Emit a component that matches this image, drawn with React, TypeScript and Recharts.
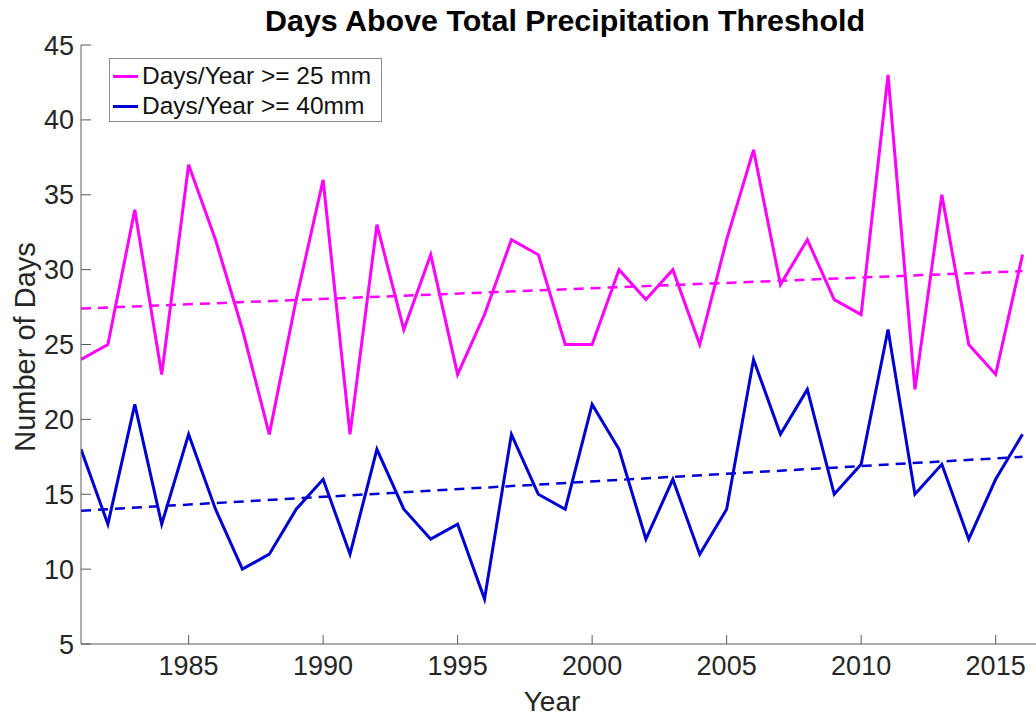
import React from 'react';
import { LineChart, Line, XAxis, YAxis, ReferenceLine, Legend } from 'recharts';

const years = [
  1981, 1982, 1983, 1984, 1985, 1986, 1987, 1988, 1989, 1990, 1991, 1992,
  1993, 1994, 1995, 1996, 1997, 1998, 1999, 2000, 2001, 2002, 2003, 2004,
  2005, 2006, 2007, 2008, 2009, 2010, 2011, 2012, 2013, 2014, 2015, 2016,
];
const days25 = [
  24, 25, 34, 23, 37, 32, 26, 19, 28, 36, 19, 33,
  26, 31, 23, 27, 32, 31, 25, 25, 30, 28, 30, 25,
  32, 38, 29, 32, 28, 27, 43, 22, 35, 25, 23, 31,
];
const days40 = [
  18, 13, 21, 13, 19, 14, 10, 11, 14, 16, 11, 18,
  14, 12, 13, 8, 19, 15, 14, 21, 18, 12, 16, 11,
  14, 24, 19, 22, 15, 17, 26, 15, 17, 12, 16, 19,
];
// fitted trend lines, end points
const trendYears = [1981, 2016];
const trend25 = [27.4, 29.9];
const trend40 = [13.9, 17.5];

const xTicks = [1985, 1990, 1995, 2000, 2005, 2010, 2015];
const yTicks = [5, 10, 15, 20, 25, 30, 35, 40, 45];

const MAGENTA = '#f0f';
const BLUE = '#0000d4';
const TEXT = '#262626';
const AXIS = '#5a5a5a';
const FONT = '"Liberation Sans", Arial, Helvetica, sans-serif';

const series = [
  { key: 'd25', name: 'Days/Year >= 25 mm', color: MAGENTA },
  { key: 'd40', name: 'Days/Year >= 40mm', color: BLUE },
];

const data = years.map((year, i) => ({ year, d25: days25[i], d40: days40[i] }));

const LegendBox = () => (
  <div
    style={{
      width: 271,
      height: 62,
      border: '1px solid #8a8a8a',
      background: '#fff',
      fontFamily: FONT,
      fontSize: 24.5,
      color: '#111',
    }}
  >
    {series.map((s) => (
      <div key={s.key} style={{ display: 'flex', alignItems: 'center', height: 30, marginTop: s.key === 'd25' ? 2 : 0 }}>
        <div style={{ width: 25, height: 3, background: s.color, marginLeft: 3, marginRight: 4 }} />
        <span style={{ whiteSpace: 'nowrap' }}>{s.name}</span>
      </div>
    ))}
  </div>
);

export default function App() {
  return (
    <div style={{ position: 'absolute', left: 0, top: 0, background: '#fff' }}>
      <LineChart width={1036} height={719} data={data} margin={{ top: 45, right: 0, bottom: 74, left: 80 }}>
        <text
          x={565}
          y={31}
          textAnchor="middle"
          fontFamily={FONT}
          fontWeight="bold"
          fontSize={29}
          fill="#000"
          textLength={600}
          lengthAdjust="spacingAndGlyphs"
        >
          Days Above Total Precipitation Threshold
        </text>
        <text
          x={0}
          y={0}
          transform="translate(35,347) rotate(-90)"
          textAnchor="middle"
          fontFamily={FONT}
          fontSize={29}
          fill={TEXT}
        >
          Number of Days
        </text>
        <text x={552} y={711} textAnchor="middle" fontFamily={FONT} fontSize={28} fill={TEXT}>
          Year
        </text>
        <XAxis
          dataKey="year"
          type="number"
          domain={[1981, 2016.5]}
          ticks={xTicks}
          height={1}
          tickSize={-9}
          tickMargin={21}
          stroke={AXIS}
          tick={{ fill: TEXT, fontSize: 27, fontFamily: FONT }}
          allowDataOverflow
        />
        <YAxis
          type="number"
          domain={[5, 45]}
          ticks={yTicks}
          width={1}
          tickSize={-10}
          tickMargin={17}
          stroke={AXIS}
          tick={{ fill: TEXT, fontSize: 27, fontFamily: FONT }}
          allowDataOverflow
        />
        <ReferenceLine
          segment={[
            { x: trendYears[0], y: trend25[0] },
            { x: trendYears[1], y: trend25[1] },
          ]}
          stroke={MAGENTA}
          strokeWidth={2.5}
          strokeDasharray="10 7"
        />
        <ReferenceLine
          segment={[
            { x: trendYears[0], y: trend40[0] },
            { x: trendYears[1], y: trend40[1] },
          ]}
          stroke={BLUE}
          strokeWidth={2.5}
          strokeDasharray="10 7"
        />
        {series.map((s) => (
          <Line
            key={s.key}
            dataKey={s.key}
            name={s.name}
            type="linear"
            stroke={s.color}
            strokeWidth={3}
            dot={false}
            activeDot={false}
            isAnimationActive={false}
          />
        ))}
        <Legend
          layout="vertical"
          align="center"
          verticalAlign="middle"
          content={() => <LegendBox />}
          wrapperStyle={{ position: 'absolute', left: 109, top: 58, width: 'auto', height: 'auto' }}
        />
      </LineChart>
    </div>
  );
}
